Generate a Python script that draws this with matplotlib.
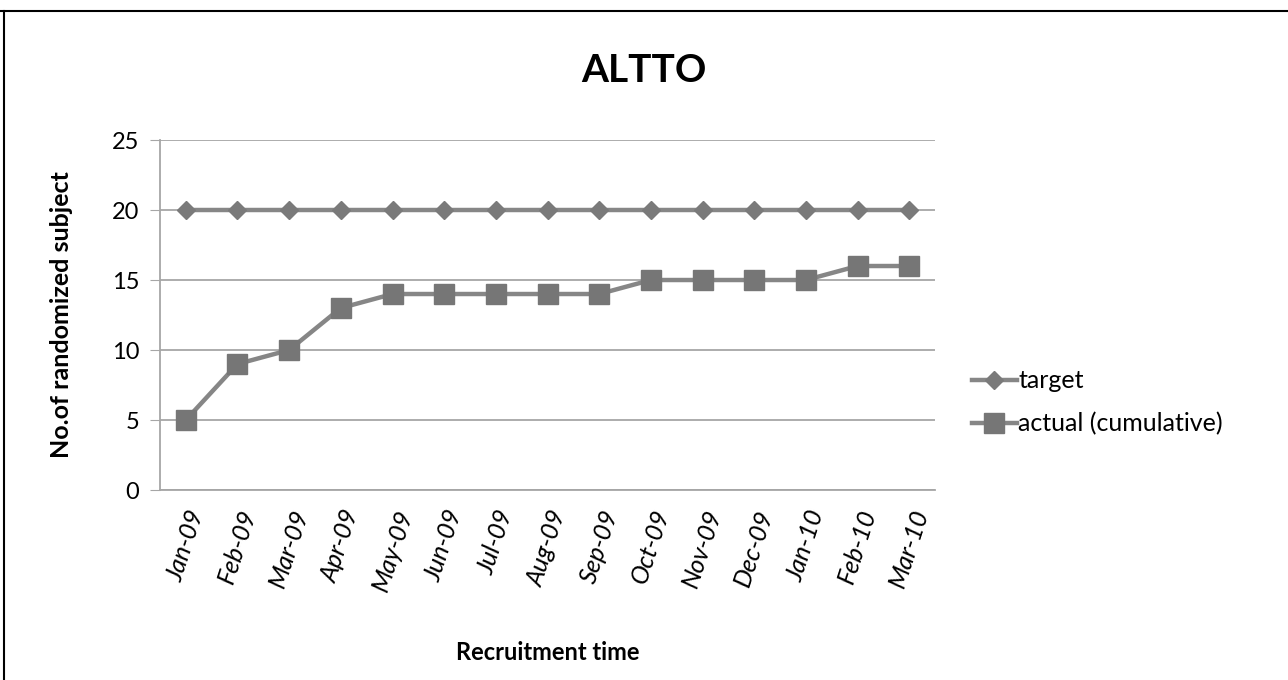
import matplotlib.pyplot as plt
from matplotlib.lines import Line2D

months = ["Jan-09", "Feb-09", "Mar-09", "Apr-09", "May-09", "Jun-09", "Jul-09",
          "Aug-09", "Sep-09", "Oct-09", "Nov-09", "Dec-09", "Jan-10", "Feb-10", "Mar-10"]
target = [20, 20, 20, 20, 20, 20, 20, 20, 20, 20, 20, 20, 20, 20, 20]
actual = [5, 9, 10, 13, 14, 14, 14, 14, 14, 15, 15, 15, 15, 16, 16]

plt.rcParams['font.family'] = ['Lato', 'DejaVu Sans']

def main():
    fig = plt.figure(figsize=(12.88, 6.8), dpi=100)
    ax = fig.add_axes([0.1242, 0.2794, 0.6018, 0.5147])

    x = list(range(len(months)))
    ax.plot(x, target, color="#868686", lw=3.2, marker="D", ms=9,
            mfc="#7a7a7a", mec="#7a7a7a", label="target", zorder=3)
    ax.plot(x, actual, color="#868686", lw=3.2, marker="s", ms=15,
            mfc="#767676", mec="#767676", label="actual (cumulative)", zorder=3)

    ax.set_xlim(-0.5, len(months) - 0.5)
    ax.set_ylim(0, 25)
    ax.set_yticks(range(0, 26, 5))
    ax.yaxis.grid(True, color="#a6a6a6", lw=1.3)
    ax.set_axisbelow(True)
    for s in ["top", "right"]:
        ax.spines[s].set_visible(False)
    for s in ["left", "bottom"]:
        ax.spines[s].set_color("#a6a6a6")
        ax.spines[s].set_linewidth(1.3)
    ax.tick_params(axis="y", length=7, color="#a6a6a6", labelsize=17, pad=8)
    ax.tick_params(axis="x", length=0, labelsize=18, pad=12)

    ax.set_xticks(x)
    ax.set_xticklabels(months, rotation=72, ha="center", style="italic")

    fig.text(0.5, 1 - 70 / 680, "ALTTO", fontsize=28, fontweight="bold",
             ha="center", va="center")
    ax.set_ylabel("No.of randomized subject", fontsize=18, fontweight="bold", labelpad=28)
    ax.set_xlabel("Recruitment time", fontsize=17, fontweight="bold", labelpad=34)

    fig.legend(loc="center left", bbox_to_anchor=(0.737, 0.408), frameon=False,
               fontsize=18, handlelength=1.8, handletextpad=0.05, labelspacing=0.8)

    # thin frame along the top and left edges
    fig.add_artist(Line2D([0, 1], [1 - 11 / 680] * 2, color="black", lw=1.5,
                          transform=fig.transFigure))
    fig.add_artist(Line2D([4 / 1288] * 2, [0, 1 - 11 / 680], color="black", lw=1.5,
                          transform=fig.transFigure))

    fig.savefig("out.png", dpi=100)

if __name__ == "__main__":
    main()
